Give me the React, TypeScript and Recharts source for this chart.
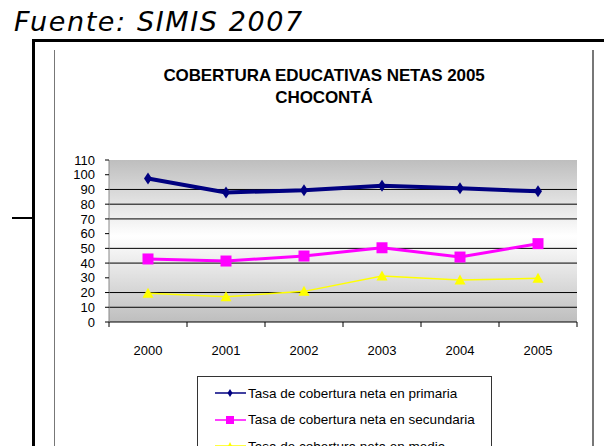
import React from "react";
import {
  LineChart,
  Line,
  XAxis,
  YAxis,
  CartesianGrid,
  ReferenceLine,
  Legend,
} from "recharts";

const years = ["2000", "2001", "2002", "2003", "2004", "2005"];
const primaria = [97.5, 88, 89.4, 92.5, 90.8, 88.7];
const secundaria = [42.8, 41.4, 44.8, 50.4, 44.1, 53.2];
const media = [19.5, 17.2, 20.8, 31.2, 28.5, 29.7];
const yTicks = [0, 10, 20, 30, 40, 50, 60, 70, 80, 90, 100, 110];
const gridValues = [10, 20, 40, 50, 70, 80, 90];

const seriesNames = {
  primaria: "Tasa de cobertura neta en primaria",
  secundaria: "Tasa de cobertura neta en secundaria",
  media: "Tasa de cobertura neta en media",
};

const data = years.map((y, i) => ({
  year: y,
  primaria: primaria[i],
  secundaria: secundaria[i],
  media: media[i],
}));

const NAVY = "#000080";
const MAGENTA = "#ff00ff";
const YELLOW = "#ffff00";
const FONT = "'Liberation Sans', Arial, sans-serif";

const Diamond = (props: any) => {
  const { cx, cy } = props;
  if (cx == null || cy == null) return null;
  const w = 4;
  const h = 6;
  return (
    <polygon
      key={`d-${cx}-${cy}`}
      points={`${cx},${cy - h} ${cx + w},${cy} ${cx},${cy + h} ${cx - w},${cy}`}
      fill={NAVY}
    />
  );
};
const Square = (props: any) => {
  const { cx, cy } = props;
  if (cx == null || cy == null) return null;
  const s = 5.5;
  return <rect key={`s-${cx}-${cy}`} x={cx - s} y={cy - s} width={s * 2} height={s * 2} fill={MAGENTA} />;
};
const Triangle = (props: any) => {
  const { cx, cy } = props;
  if (cx == null || cy == null) return null;
  const s = 5.5;
  return (
    <polygon
      key={`t-${cx}-${cy}`}
      points={`${cx},${cy - s} ${cx + s},${cy + s - 1} ${cx - s},${cy + s - 1}`}
      fill={YELLOW}
    />
  );
};

const BAND = 78;
const XTick = (props: any) => {
  const { x, y, payload, index } = props;
  const axisY = 322;
  return (
    <g>
      <line x1={x - BAND / 2} y1={axisY} x2={x - BAND / 2} y2={axisY + 5} stroke="#000" />
      {index === years.length - 1 && (
        <line x1={x + BAND / 2} y1={axisY} x2={x + BAND / 2} y2={axisY + 5} stroke="#000" />
      )}
      <text x={x} y={y} dy={25} textAnchor="middle" fontSize={13} fontFamily={FONT} fill="#000">
        {payload.value}
      </text>
    </g>
  );
};

const LegendContent = () => {
  const rows = [
    { key: "primaria", color: NAVY, marker: "diamond" },
    { key: "secundaria", color: MAGENTA, marker: "square" },
    { key: "media", color: YELLOW, marker: "triangle" },
  ];
  return (
    <div
      style={{
        width: 295,
        height: 100,
        border: "1px solid #333",
        background: "#fff",
        boxSizing: "border-box",
        paddingTop: 3,
      }}
    >
      {rows.map((r) => (
        <div key={r.key} style={{ display: "flex", alignItems: "center", height: 26.5 }}>
          <svg width={50} height={14} style={{ flex: "none" }}>
            <line x1={17} y1={7} x2={48} y2={7} stroke={r.color} strokeWidth={1.5} />
            {r.marker === "diamond" && <polygon points="32,3 34.5,7 32,11 29.5,7" fill={r.color} />}
            {r.marker === "square" && <rect x={28} y={3} width={8} height={8} fill={r.color} />}
            {r.marker === "triangle" && <polygon points="32,3 36,11 28,11" fill={r.color} />}
          </svg>
          <span style={{ fontFamily: FONT, fontSize: 13.5, color: "#000", whiteSpace: "nowrap" }}>
            {(seriesNames as any)[r.key]}
          </span>
        </div>
      ))}
    </div>
  );
};

export default function App() {
  return (
    <div
      style={{
        position: "absolute",
        left: 0,
        top: 0,
        width: 604,
        height: 446,
        overflow: "hidden",
        background: "#fff",
      }}
    >
      <div
        style={{
          position: "absolute",
          left: 14,
          top: 6,
          fontFamily: "'DejaVu Sans', Verdana, sans-serif",
          fontStyle: "italic",
          fontSize: 27,
          color: "#000",
          letterSpacing: 1.6,
          whiteSpace: "nowrap",
        }}
      >
        Fuente: SIMIS 2007
      </div>
      <div style={{ position: "absolute", left: 32, top: 39, width: 572, height: 3, background: "#000" }} />
      <div style={{ position: "absolute", left: 32, top: 39, width: 3, height: 407, background: "#000" }} />
      <div style={{ position: "absolute", left: 12, top: 217, width: 21, height: 2, background: "#000" }} />
      <div style={{ position: "absolute", left: 54, top: 50, width: 1, height: 396, background: "#777" }} />
      <div style={{ position: "absolute", left: 592, top: 50, width: 2, height: 396, background: "#777" }} />
      <div
        style={{
          position: "absolute",
          left: 56,
          width: 536,
          top: 65,
          textAlign: "center",
          fontFamily: FONT,
          fontWeight: "bold",
          fontSize: 17,
          lineHeight: "22px",
          letterSpacing: -0.1,
          color: "#000",
        }}
      >
        COBERTURA EDUCATIVAS NETAS 2005
        <br />
        CHOCONTÁ
      </div>

      <div style={{ position: "absolute", left: 0, top: 0 }}>
        <LineChart
          width={604}
          height={446}
          data={data}
          margin={{ top: 160, right: 27, bottom: 94, left: 69 }}
        >
          <defs>
            <linearGradient id="plotBg" x1="0" y1="0" x2="0" y2="1">
              <stop offset="0%" stopColor="#bebebe" />
              <stop offset="47%" stopColor="#ffffff" />
              <stop offset="100%" stopColor="#bebebe" />
            </linearGradient>
          </defs>
          <CartesianGrid horizontal={false} vertical={false} fill="url(#plotBg)" />
          {gridValues.map((v) => (
            <ReferenceLine key={v} y={v} stroke="#000" strokeWidth={1} ifOverflow="visible" />
          ))}
          <XAxis
            dataKey="year"
            height={30}
            padding={{ left: 39, right: 39 }}
            axisLine={{ stroke: "#000" }}
            tickLine={false}
            tick={<XTick />}
            interval={0}
          />
          <YAxis
            width={40}
            domain={[0, 110]}
            ticks={yTicks}
            interval={0}
            axisLine={{ stroke: "#888" }}
            tickLine={{ stroke: "#000" }}
            tickSize={4}
            tickMargin={10}
            tick={{ fontSize: 13, fontFamily: FONT, fill: "#000" }}
          />
          <Legend
            layout="vertical"
            align="center"
            verticalAlign="middle"
            content={<LegendContent />}
            wrapperStyle={{ position: "absolute", left: 197, top: 376, width: 295 }}
          />
          <Line
            type="linear"
            dataKey="media"
            stroke={YELLOW}
            strokeWidth={1.5}
            dot={<Triangle />}
            isAnimationActive={false}
          />
          <Line
            type="linear"
            dataKey="secundaria"
            stroke={MAGENTA}
            strokeWidth={3}
            dot={<Square />}
            isAnimationActive={false}
          />
          <Line
            type="linear"
            dataKey="primaria"
            stroke={NAVY}
            strokeWidth={4}
            dot={<Diamond />}
            isAnimationActive={false}
          />
        </LineChart>
      </div>
    </div>
  );
}
